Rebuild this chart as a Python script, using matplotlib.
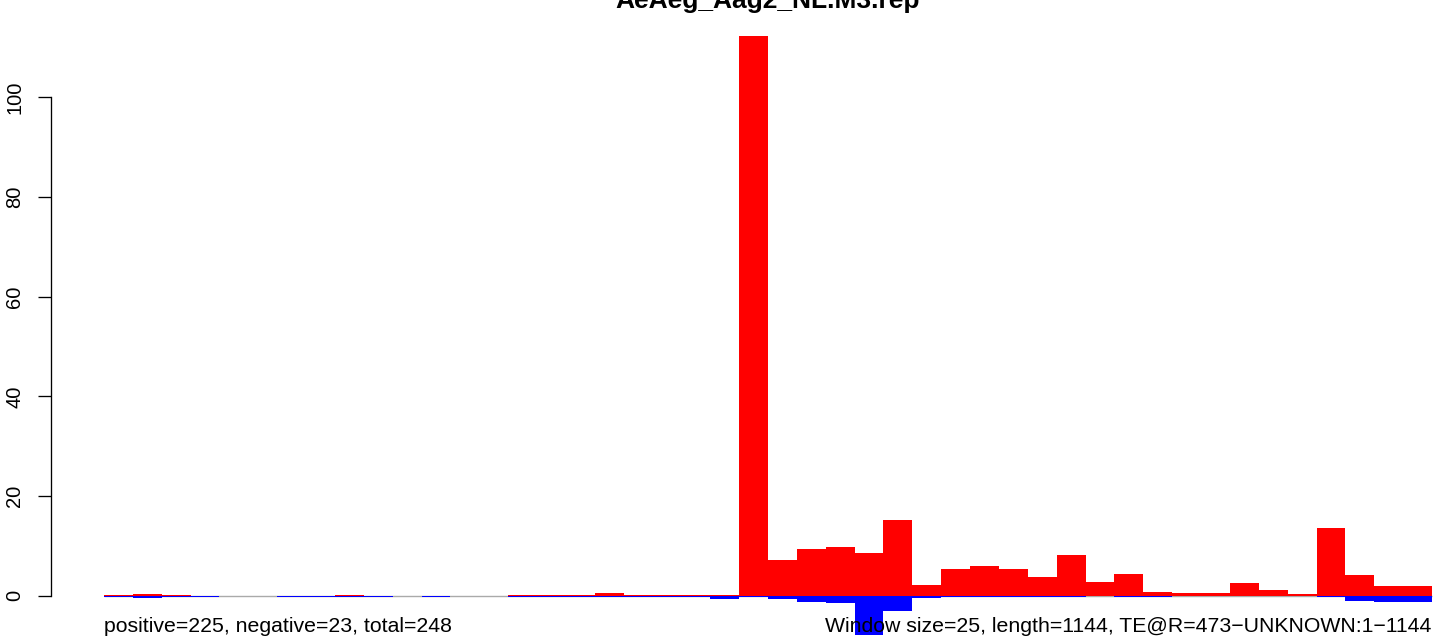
import numpy as np
import matplotlib.pyplot as plt

plt.rcParams['font.family'] = ['Liberation Sans', 'DejaVu Sans']

title = "AeAeg_Aag2_NL.M3.rep"
left_note = "positive=225, negative=23, total=248"
right_note = "Window size=25, length=1144, TE@R=473\u2212UNKNOWN:1\u22121144"

# one value per 25-bp window; None = no bar drawn
pos = [0.25, 0.45, 0.25, None, None, None, None, None, 0.25, None,
       None, None, None, None, 0.25, 0.25, 0.25, 0.6, 0.25, 0.25,
       0.25, 0.25, 112.2, 7.2, 9.4, 9.8, 8.6, 15.2, 2.2, 5.4,
       6.0, 5.4, 3.8, 8.2, 2.8, 4.4, 0.8, 0.55, 0.55, 2.6,
       1.2, 0.35, 13.6, 4.2, 2.0, 2.0]
neg = [-0.15, -0.35, -0.15, -0.15, None, None, -0.15, -0.15, -0.15, -0.15,
       None, -0.15, None, None, -0.15, -0.15, -0.15, -0.15, -0.15, -0.15,
       -0.15, -0.65, -0.25, -0.65, -1.2, -1.45, -7.9, -3.05, -0.45, -0.15,
       -0.15, -0.15, -0.15, -0.15, None, -0.15, -0.15, None, None, None,
       None, None, -0.3, -1.05, -1.25, -1.25]
yticks = [0, 20, 40, 60, 80, 100]

W, H = 1436, 641
fig = plt.figure(figsize=(W / 100, H / 100), dpi=100)

# plot region (R style, partly outside the saved image)
x0_px, bw = 104.0, 28.87
y0_px, sc = 595.8, 4.985
ylo, yhi = -12.9, 117.0
xlo = -(x0_px - 51) / bw
xhi = xlo + (W - 51) / bw
top_px = y0_px - yhi * sc
bot_px = y0_px - ylo * sc
ax = fig.add_axes([51 / W, (H - bot_px) / H, 1 - 51 / W, (bot_px - top_px) / H])
ax.set_xlim(xlo, xhi)
ax.set_ylim(ylo, yhi)

n = len(pos)
ax.hlines(0, 0, n, color='#AAAAAA', lw=1, zorder=1)

ib = [i for i in range(n) if neg[i] is not None]
ax.bar(ib, [neg[i] for i in ib], width=1, align='edge', color='#0000FF', lw=0, zorder=2)
ir = [i for i in range(n) if pos[i] is not None]
ax.bar(ir, [pos[i] for i in ir], width=1, align='edge', color='#FF0000', lw=0, zorder=3)

for s in ['top', 'right', 'bottom']:
    ax.spines[s].set_visible(False)
ax.spines['left'].set_bounds(0, 100)
ax.spines['left'].set_linewidth(0.95)
ax.set_xticks([])
ax.set_yticks(yticks)
ax.tick_params(axis='y', length=9.4, width=0.95, pad=10, labelsize=14.5, labelrotation=90)
for lab in ax.get_yticklabels():
    lab.set_va('center')

fig.text(768 / W, (H - 8) / H, title, ha='center', va='baseline',
         fontsize=19, fontweight='bold')
fig.text(104 / W, (H - 632) / H, left_note, ha='left', va='baseline', fontsize=15.3)
fig.text(1431 / W, (H - 632) / H, right_note, ha='right', va='baseline', fontsize=15.3)

fig.savefig('out.png', dpi=100)
